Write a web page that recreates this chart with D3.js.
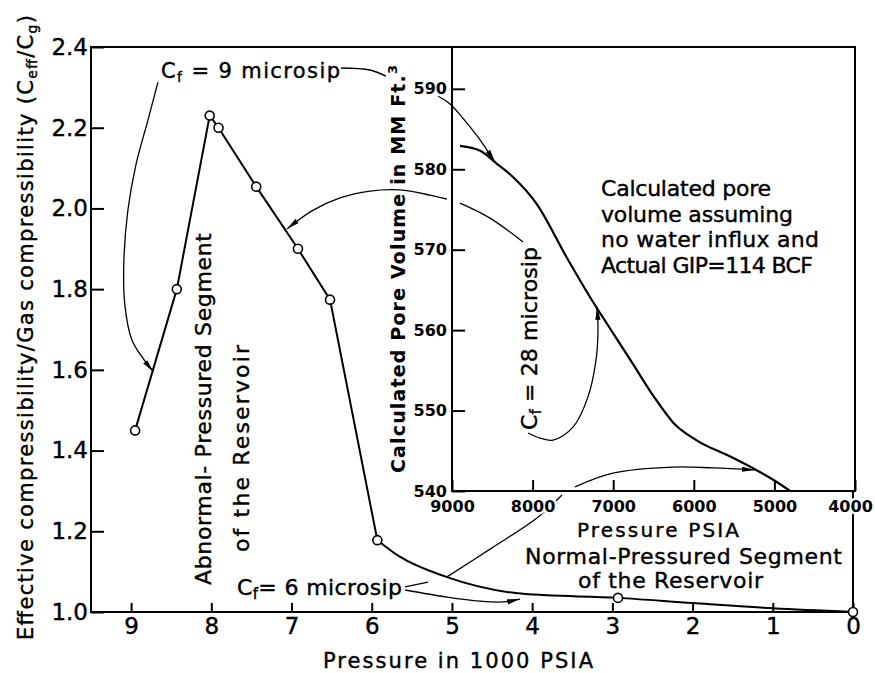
<!DOCTYPE html>
<html>
<head>
<meta charset="utf-8">
<script src="https://cdn.jsdelivr.net/npm/d3@7"></script>
<style>
  body { margin: 0; background: #fff; }
  svg text { font-family: "DejaVu Sans", sans-serif; fill: #000; }
</style>
</head>
<body>
<svg id="chart" width="875" height="673"></svg>
<script>
// main plot: pressure in 1000 psia vs ceff/cg
var pressure = [8.95, 8.43, 8.02, 7.91, 7.44, 6.92, 6.52, 5.93, 2.93, 0];
var ratio = [1.45, 1.80, 2.23, 2.20, 2.054, 1.90, 1.774, 1.178, 1.035, 1.0];
// smooth low-pressure part of the same curve
var tailPressure = [5.93, 5.65, 5.07, 4.11, 2.93, 2.0, 1.0, 0];
var tailRatio = [1.178, 1.137, 1.087, 1.045, 1.035, 1.022, 1.009, 1.0];
var xTicks = [9, 8, 7, 6, 5, 4, 3, 2, 1, 0];
var yTicks = [1.0, 1.2, 1.4, 1.6, 1.8, 2.0, 2.2, 2.4];

// inset: calculated pore volume vs pressure
var insetPressure = [8900, 8650, 8445, 8240, 7950, 7580, 7250, 7000, 6750, 6500, 6255, 5965, 5550, 5260, 5015, 4805];
var insetVolume = [582.9, 582.3, 580.7, 579.0, 575.7, 569.1, 563.5, 559.6, 555.7, 551.8, 548.5, 546.3, 544.3, 542.8, 541.4, 540.0];
var insetXTicks = [9000, 8000, 7000, 6000, 5000, 4000];
var insetYTicks = [540, 550, 560, 570, 580, 590];

// guide/arrow paths, in main-plot units
var cf9Left = [[8.665, 2.313], [8.79, 2.219], [8.94, 2.108], [9.04, 1.996], [9.09, 1.872], [9.078, 1.761], [8.99, 1.674], [8.853, 1.629], [8.72, 1.595]];
var cf9RightA = [[6.383, 2.348], [6.022, 2.343], [5.822, 2.328]];
var cf9RightB = [[5.174, 2.2785], [5.024, 2.2587], [4.875, 2.2264], [4.675, 2.1769], [4.463, 2.115]];
var cf28ArcA = [[4.114, 1.917], [4.526, 1.976], [4.90, 2.013]];
var cf28ArcB = [[5.062, 2.023], [5.274, 2.033], [5.648, 2.046], [6.022, 2.043], [6.396, 2.026], [6.745, 1.994], [7.057, 1.949]];
var cf28Hook = [[4.052, 1.4435], [3.902, 1.431], [3.74, 1.426], [3.491, 1.458], [3.304, 1.533], [3.204, 1.624], [3.179, 1.699], [3.191, 1.756]];
var cf6UpA = [[5.585, 1.062], [5.299, 1.074]];
var cf6UpB = [[5.062, 1.087], [4.501, 1.159], [3.94, 1.233], [3.628, 1.29]];
var cf6UpC = [[3.466, 1.31], [2.992, 1.344], [2.244, 1.359], [1.745, 1.357], [1.222, 1.352]];
var cf6Low = [[5.585, 1.0545], [5.062, 1.037], [4.65, 1.027], [4.364, 1.025], [4.152, 1.032]];

var svg = d3.select('#chart');

var x = d3.scaleLinear().domain([9.5, 0]).range([91, 853]);
var y = d3.scaleLinear().domain([1.0, 2.4]).range([612, 47]);
var xIn = d3.scaleLinear().domain([9000, 4000]).range([452, 855]);
var yIn = d3.scaleLinear().domain([540, 595.2]).range([491, 47]);

svg.append('defs').append('marker')
    .attr('id', 'arrow')
    .attr('viewBox', '0 -3 13 6')
    .attr('refX', 13).attr('refY', 0)
    .attr('markerWidth', 13).attr('markerHeight', 6)
    .attr('markerUnits', 'userSpaceOnUse')
    .attr('orient', 'auto')
    .append('path').attr('d', 'M0,-2.6L13,0L0,2.6Z').attr('fill', '#000');

// main frame (left, bottom, top and the bit of right side below the inset)
svg.append('path')
    .attr('d', 'M' + x(0) + ',' + yIn(540) + 'V' + y(1.0) + 'H' + x(9.5) + 'V' + y(2.4) + 'H' + xIn(4000))
    .attr('fill', 'none').attr('stroke', '#000').attr('stroke-width', 2);

var styleAxis = function(g, size, weight, halo) {
    g.select('.domain').remove();
    g.attr('font-size', size).attr('font-family', '"DejaVu Sans", sans-serif').attr('font-weight', weight);
    g.selectAll('line').attr('stroke-width', 2);
    g.selectAll('text').attr('stroke', '#000').attr('stroke-width', 0.4);
    if (halo) {
        g.selectAll('text').attr('stroke', '#fff').attr('stroke-width', 5).attr('paint-order', 'stroke');
    }
};

svg.append('g').attr('transform', 'translate(' + x(9.5) + ',0)')
    .call(d3.axisLeft(y).tickValues(yTicks).tickFormat(d3.format('.1f')).tickSize(-13).tickPadding(3))
    .call(styleAxis, 23, 'normal', false);
svg.append('g').attr('transform', 'translate(0,' + y(1.0) + ')')
    .call(d3.axisBottom(x).tickValues(xTicks).tickFormat(d3.format('d')).tickSize(-9).tickPadding(6))
    .call(styleAxis, 23, 'normal', false);

var line = d3.line().x(function(d) { return x(d[0]); }).y(function(d) { return y(d[1]); });
var tailLine = d3.line().curve(d3.curveMonotoneX).x(function(d) { return x(d[0]); }).y(function(d) { return y(d[1]); });
var guideLine = d3.line().curve(d3.curveCatmullRom.alpha(0.5)).x(function(d) { return x(d[0]); }).y(function(d) { return y(d[1]); });

var mainPts = pressure.map(function(p, i) { return [p, ratio[i]]; });
var tailPts = tailPressure.map(function(p, i) { return [p, tailRatio[i]]; });

svg.append('path').datum(mainPts.filter(function(d) { return d[0] >= 5.93; }))
    .attr('d', line).attr('fill', 'none').attr('stroke', '#000').attr('stroke-width', 2);
svg.append('path').datum(tailPts)
    .attr('d', tailLine).attr('fill', 'none').attr('stroke', '#000').attr('stroke-width', 2);

var guide = function(pts, arrow) {
    svg.append('path').datum(pts)
        .attr('d', guideLine)
        .attr('fill', 'none').attr('stroke', '#000').attr('stroke-width', 1.3)
        .attr('marker-end', arrow ? 'url(#arrow)' : null);
};
guide(cf9Left, true);
guide(cf9RightA, false);
guide(cf9RightB, true);
guide(cf28ArcA, false);
guide(cf28ArcB, true);
guide(cf28Hook, true);
guide(cf6UpA, false);
guide(cf6UpB, false);
guide(cf6UpC, true);
guide(cf6Low, true);

svg.selectAll('.pt')
    .data(mainPts)
    .enter().append('circle')
    .attr('class', 'pt')
    .attr('cx', function(d) { return x(d[0]); })
    .attr('cy', function(d) { return y(d[1]); })
    .attr('r', 4.5)
    .attr('fill', '#fff').attr('stroke', '#000').attr('stroke-width', 1.6);

// inset
svg.append('rect')
    .attr('x', xIn(9000)).attr('y', yIn(595.2))
    .attr('width', xIn(4000) - xIn(9000)).attr('height', yIn(540) - yIn(595.2))
    .attr('fill', 'none').attr('stroke', '#000').attr('stroke-width', 2);
svg.append('g').attr('transform', 'translate(' + xIn(9000) + ',0)')
    .call(d3.axisLeft(yIn).tickValues(insetYTicks).tickFormat(d3.format('d')).tickSize(-13).tickPadding(5))
    .call(styleAxis, 16, 'bold', true);
var insetX = svg.append('g').attr('transform', 'translate(0,' + yIn(540) + ')')
    .call(d3.axisBottom(xIn).tickValues(insetXTicks).tickFormat(d3.format('d')).tickSize(-11).tickPadding(10))
    .call(styleAxis, 16, 'bold', true);
// last label sits at the page edge, pull it in a little
insetX.selectAll('.tick text').filter(function(d) { return d === 4000; }).attr('dx', -5);

var insetLine = d3.line().curve(d3.curveMonotoneX)
    .x(function(d) { return xIn(d[0]); }).y(function(d) { return yIn(d[1]); });
svg.append('path').datum(insetPressure.map(function(p, i) { return [p, insetVolume[i]]; }))
    .attr('d', insetLine).attr('fill', 'none').attr('stroke', '#000').attr('stroke-width', 2.2);

// text
var addText = function(px, py, parts, opt) {
    var t = svg.append('text')
        .attr('transform', 'translate(' + px + ',' + py + ')' + (opt.rotate ? ' rotate(-90)' : ''))
        .attr('font-size', opt.size)
        .attr('font-weight', opt.weight || 'normal')
        .attr('text-anchor', opt.anchor || 'start')
        .attr('stroke', '#000').attr('stroke-width', opt.weight === 'bold' ? 0 : 0.4);
    if (opt.len) { t.attr('textLength', opt.len).attr('lengthAdjust', 'spacing'); }
    parts.forEach(function(p) {
        var s = t.append('tspan').text(p[0]);
        if (p[1] === 'sub') { s.attr('font-size', Math.round(opt.size * 0.68)).attr('baseline-shift', -4); }
        if (p[1] === 'sup') { s.attr('font-size', Math.round(opt.size * 0.7)).attr('baseline-shift', 8); }
    });
};

addText(33, 640, [['Effective compressibility/Gas compressibility (C'], ['eff', 'sub'], ['/C'], ['g', 'sub'], [')']], {size: 21, rotate: true, len: 625});
addText(323, 668, [['Pressure in 1000 PSIA']], {size: 21, len: 270});
addText(405, 473, [['Calculated Pore Volume in MM Ft.'], ['3', 'sup']], {size: 19, weight: 'bold', rotate: true, len: 408});
addText(577, 537, [['Pressure PSIA']], {size: 20, len: 162});

addText(161, 78, [['C'], ['f', 'sub'], [' = 9 microsip']], {size: 21, len: 179});
addText(237, 595, [['C'], ['f', 'sub'], ['= 6 microsip']], {size: 22, len: 165});
addText(537, 430, [['C'], ['f', 'sub'], [' = 28 microsip']], {size: 22, rotate: true, len: 183});

addText(211, 585, [['Abnormal- Pressured Segment']], {size: 22, rotate: true, len: 352});
addText(249, 552, [['of the Reservoir']], {size: 22, rotate: true, len: 207});
addText(525, 564, [['Normal-Pressured Segment']], {size: 22, len: 317});
addText(578, 588, [['of the Reservoir']], {size: 22, len: 185});

var note = ['Calculated pore', 'volume assuming', 'no water influx and', 'Actual GIP=114 BCF'];
var noteLen = [170, 192, 218, 212];
note.forEach(function(s, i) {
    addText(601, 196 + i * 25.5, [[s]], {size: 22, len: noteLen[i]});
});
</script>
</body>
</html>
